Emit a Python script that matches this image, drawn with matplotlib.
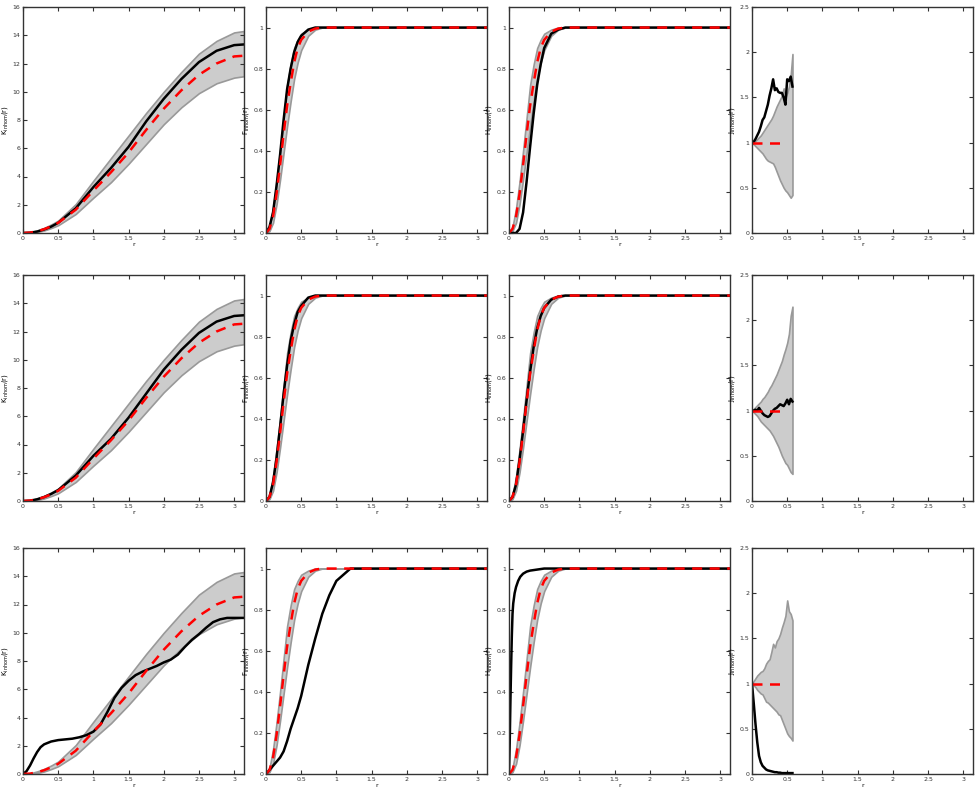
import matplotlib
matplotlib.use("Agg")
import matplotlib.pyplot as plt

# --- K(r) ---
r_k = [0, 0.1, 0.2, 0.3, 0.4, 0.5, 0.75, 1.0, 1.25, 1.5, 1.75, 2.0, 2.25, 2.5, 2.75, 3.0, 3.14]
k_theo = [0, 0.03, 0.12, 0.27, 0.47, 0.72, 1.65, 3.0, 4.3, 5.7, 7.3, 8.8, 10.1, 11.2, 12.0, 12.5, 12.55]
k_hi = [0, 0.05, 0.18, 0.36, 0.6, 0.88, 2.05, 3.7, 5.3, 6.9, 8.5, 10.0, 11.4, 12.7, 13.6, 14.2, 14.3]
k_lo = [0, 0.01, 0.07, 0.18, 0.35, 0.55, 1.35, 2.5, 3.6, 4.9, 6.3, 7.7, 8.9, 9.9, 10.6, 11.0, 11.1]
k_obs1 = [0, 0.02, 0.1, 0.25, 0.45, 0.72, 1.75, 3.25, 4.6, 6.1, 7.9, 9.5, 10.9, 12.1, 12.9, 13.3, 13.35]
k_obs2 = [0, 0.02, 0.12, 0.28, 0.5, 0.77, 1.8, 3.2, 4.4, 5.9, 7.6, 9.3, 10.7, 11.9, 12.7, 13.1, 13.15]
r_k3 = [0, 0.05, 0.1, 0.15, 0.2, 0.25, 0.3, 0.4, 0.5, 0.6, 0.7, 0.8, 0.9, 1.0, 1.1, 1.2, 1.3,
        1.4, 1.5, 1.6, 1.7, 1.8, 1.9, 2.0, 2.1, 2.2, 2.3, 2.4, 2.5, 2.6, 2.7, 2.8, 2.9, 3.0, 3.14]
k_obs3 = [0, 0.2, 0.6, 1.1, 1.55, 1.9, 2.1, 2.3, 2.4, 2.45, 2.5, 2.6, 2.75, 3.0, 3.5, 4.4, 5.4,
          6.1, 6.6, 7.0, 7.25, 7.45, 7.65, 7.9, 8.1, 8.45, 9.0, 9.5, 9.9, 10.35, 10.75, 10.95, 11.05, 11.05, 11.05]

# --- F(r) and H(r) ---
r_f = [0, 0.05, 0.1, 0.15, 0.2, 0.25, 0.3, 0.35, 0.4, 0.45, 0.5, 0.6, 0.7, 0.8, 0.9, 1.0, 1.2, 1.5, 2.0, 2.5, 3.14]
f_theo = [0, 0.02, 0.08, 0.19, 0.33, 0.48, 0.62, 0.73, 0.83, 0.9, 0.94, 0.98, 0.995, 1, 1, 1, 1, 1, 1, 1, 1]
f_hi = [0, 0.03, 0.12, 0.25, 0.4, 0.56, 0.72, 0.82, 0.9, 0.94, 0.97, 0.99, 1, 1, 1, 1, 1, 1, 1, 1, 1]
f_lo = [0, 0.01, 0.05, 0.14, 0.26, 0.39, 0.52, 0.64, 0.75, 0.83, 0.89, 0.96, 0.99, 1, 1, 1, 1, 1, 1, 1, 1]
f_obs1 = [0, 0.03, 0.1, 0.23, 0.38, 0.55, 0.7, 0.8, 0.88, 0.93, 0.96, 0.99, 1, 1, 1, 1, 1, 1, 1, 1, 1]
f_obs2 = [0, 0.02, 0.09, 0.21, 0.36, 0.52, 0.66, 0.78, 0.86, 0.92, 0.95, 0.99, 1, 1, 1, 1, 1, 1, 1, 1, 1]
f_obs3 = [0, 0.02, 0.04, 0.06, 0.08, 0.11, 0.16, 0.22, 0.27, 0.32, 0.38, 0.53, 0.66, 0.78, 0.87, 0.94, 1, 1, 1, 1, 1]
h_obs1 = [0, 0, 0, 0.02, 0.1, 0.25, 0.42, 0.58, 0.72, 0.82, 0.9, 0.97, 0.99, 1, 1, 1, 1, 1, 1, 1, 1]
h_obs2 = [0, 0.02, 0.08, 0.2, 0.34, 0.49, 0.63, 0.75, 0.84, 0.9, 0.94, 0.98, 0.995, 1, 1, 1, 1, 1, 1, 1, 1]
r_h3 = [0, 0.01, 0.02, 0.03, 0.04, 0.05, 0.06, 0.08, 0.1, 0.13, 0.16, 0.2, 0.25, 0.3, 0.4, 0.5, 1.0, 2.0, 3.14]
h_obs3 = [0, 0.15, 0.35, 0.52, 0.67, 0.78, 0.83, 0.88, 0.91, 0.94, 0.96, 0.975, 0.985, 0.99, 0.995, 1, 1, 1, 1]

# --- J(r) ---
r_j = [0, 0.025, 0.05, 0.075, 0.1, 0.125, 0.15, 0.175, 0.2, 0.225, 0.25, 0.275,
       0.3, 0.325, 0.35, 0.375, 0.4, 0.425, 0.45, 0.475, 0.5, 0.525, 0.55, 0.575]
r_j_theo = [0, 0.5]
j_theo = [1, 1]
j_obs1 = [1.0, 1.01, 1.04, 1.08, 1.12, 1.18, 1.25, 1.28, 1.35, 1.42, 1.52, 1.6,
          1.7, 1.58, 1.6, 1.56, 1.55, 1.55, 1.5, 1.42, 1.7, 1.68, 1.73, 1.62]
j_hi1 = [1.0, 1.01, 1.02, 1.04, 1.06, 1.08, 1.11, 1.14, 1.17, 1.2, 1.23, 1.26,
         1.3, 1.35, 1.4, 1.44, 1.48, 1.52, 1.6, 1.5, 1.55, 1.62, 1.75, 1.98]
j_lo1 = [1.0, 0.98, 0.96, 0.94, 0.92, 0.9, 0.88, 0.85, 0.82, 0.8, 0.79, 0.78,
         0.77, 0.73, 0.68, 0.63, 0.58, 0.54, 0.5, 0.47, 0.45, 0.42, 0.39, 0.42]
j_obs2 = [1.0, 1.0, 1.01, 1.0, 1.03, 1.0, 0.97, 0.95, 0.94, 0.93, 0.94, 0.97,
          1.0, 1.02, 1.03, 1.05, 1.07, 1.06, 1.05, 1.08, 1.12, 1.07, 1.13, 1.1]
j_hi2 = [1.0, 1.02, 1.04, 1.06, 1.08, 1.1, 1.13, 1.15, 1.18, 1.21, 1.25, 1.28,
         1.32, 1.36, 1.4, 1.45, 1.5, 1.55, 1.62, 1.68, 1.75, 1.85, 2.05, 2.15]
j_lo2 = [1.0, 0.98, 0.96, 0.94, 0.91, 0.88, 0.86, 0.84, 0.82, 0.8, 0.78, 0.75,
         0.72, 0.68, 0.64, 0.6, 0.55, 0.5, 0.46, 0.42, 0.4, 0.36, 0.32, 0.3]
j_obs3 = [1.0, 0.78, 0.55, 0.35, 0.2, 0.13, 0.09, 0.07, 0.05, 0.04, 0.035, 0.03,
          0.025, 0.02, 0.02, 0.015, 0.015, 0.01, 0.01, 0.01, 0.01, 0.01, 0.01, 0.01]
j_hi3 = [1.0, 1.03, 1.06, 1.09, 1.11, 1.13, 1.14, 1.17, 1.22, 1.25, 1.27, 1.35,
         1.44, 1.4, 1.47, 1.5, 1.55, 1.62, 1.68, 1.75, 1.92, 1.8, 1.77, 1.7]
j_lo3 = [1.0, 0.98, 0.96, 0.93, 0.91, 0.89, 0.88, 0.84, 0.8, 0.79, 0.77, 0.75,
         0.73, 0.71, 0.69, 0.66, 0.65, 0.6, 0.55, 0.5, 0.45, 0.42, 0.4, 0.37]

xticks = [0, 0.5, 1, 1.5, 2, 2.5, 3]
xtick_labels = ["0", "0.5", "1", "1.5", "2", "2.5", "3"]


def panel(ax, r, lo, hi, rt, theo, ro, obs, ylabel, ylim, yticks, ylabels):
    ax.fill_between(r, lo, hi, facecolor="#cccccc", edgecolor="#999999", linewidth=1.2)
    ax.plot(ro, obs, color="black", linewidth=1.8)
    ax.plot(rt, theo, color="red", linestyle="--", linewidth=1.8, dashes=(4, 3))
    ax.set_xlim(0, 3.14)
    ax.set_ylim(*ylim)
    ax.set_xticks(xticks)
    ax.set_xticklabels(xtick_labels)
    ax.set_yticks(yticks)
    ax.set_yticklabels(ylabels)
    ax.tick_params(direction="in", top=True, right=True, labelsize=4.5, length=3,
                   width=0.8, pad=2, colors="#333333")
    for s in ax.spines.values():
        s.set_linewidth(1.0)
        s.set_color("#333333")
    ax.set_xlabel("r", fontsize=4.5, labelpad=1)
    ax.set_ylabel(ylabel, fontsize=5, labelpad=2)


fig = plt.figure(figsize=(9.75, 7.94), dpi=100)
W, H = 975, 794
lefts = [23, 266, 509, 752]
tops = [7, 275, 548]
aw, ah = 221, 226
axes = [[fig.add_axes([l / W, 1 - (t + ah) / H, aw / W, ah / H]) for l in lefts] for t in tops]

k_ticks = [0, 2, 4, 6, 8, 10, 12, 14, 16]
f_ticks = [0, 0.2, 0.4, 0.6, 0.8, 1]
f_labels = ["0", "0.2", "0.4", "0.6", "0.8", "1"]
j_ticks = [0, 0.5, 1, 1.5, 2, 2.5]
j_labels = ["0", "0.5", "1", "1.5", "2", "2.5"]

k_obs = [(r_k, k_obs1), (r_k, k_obs2), (r_k3, k_obs3)]
f_obs = [f_obs1, f_obs2, f_obs3]
h_obs = [(r_f, h_obs1), (r_f, h_obs2), (r_h3, h_obs3)]
j_sets = [(j_lo1, j_hi1, j_obs1), (j_lo2, j_hi2, j_obs2), (j_lo3, j_hi3, j_obs3)]

for i in range(3):
    row = axes[i]
    panel(row[0], r_k, k_lo, k_hi, r_k, k_theo, k_obs[i][0], k_obs[i][1],
          r"K$_{\rm inhom}$(r)", (0, 16), k_ticks, [str(v) for v in k_ticks])
    panel(row[1], r_f, f_lo, f_hi, r_f, f_theo, r_f, f_obs[i],
          r"F$_{\rm inhom}$(r)", (0, 1.1), f_ticks, f_labels)
    panel(row[2], r_f, f_lo, f_hi, r_f, f_theo, h_obs[i][0], h_obs[i][1],
          r"H$_{\rm inhom}$(r)", (0, 1.1), f_ticks, f_labels)
    lo, hi, obs = j_sets[i]
    panel(row[3], r_j, lo, hi, r_j_theo, j_theo, r_j, obs,
          r"J$_{\rm inhom}$(r)", (0, 2.5), j_ticks, j_labels)

fig.savefig("out.png", dpi=100)
